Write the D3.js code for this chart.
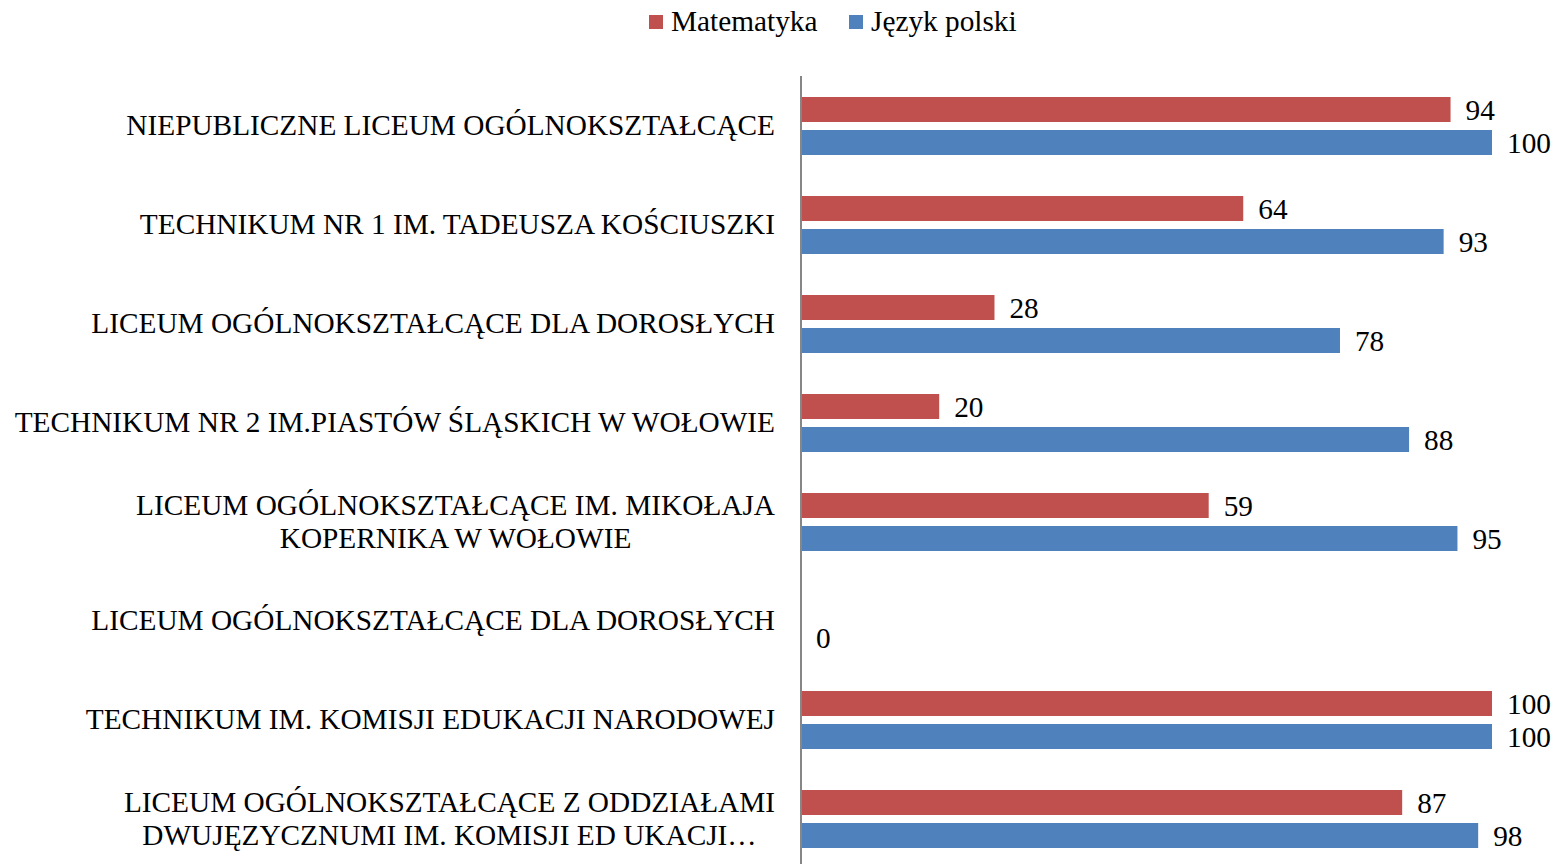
<!DOCTYPE html>
<html>
<head>
<meta charset="utf-8">
<script src="https://cdn.jsdelivr.net/npm/d3@7"></script>
<style>
  html, body { margin:0; padding:0; background:#fff; }
  svg { display:block; font-family:"Liberation Serif","Times New Roman",serif; }
</style>
</head>
<body>
<svg id="chart" width="1556" height="864"></svg>
<script>
const categories = [
  ["NIEPUBLICZNE LICEUM OGÓLNOKSZTAŁCĄCE"],
  ["TECHNIKUM NR 1 IM. TADEUSZA KOŚCIUSZKI"],
  ["LICEUM OGÓLNOKSZTAŁCĄCE DLA DOROSŁYCH"],
  ["TECHNIKUM NR 2 IM.PIASTÓW ŚLĄSKICH W WOŁOWIE"],
  ["LICEUM OGÓLNOKSZTAŁCĄCE IM. MIKOŁAJA", "KOPERNIKA W WOŁOWIE"],
  ["LICEUM OGÓLNOKSZTAŁCĄCE DLA DOROSŁYCH"],
  ["TECHNIKUM IM. KOMISJI EDUKACJI NARODOWEJ"],
  ["LICEUM OGÓLNOKSZTAŁCĄCE Z ODDZIAŁAMI", "DWUJĘZYCZNUMI IM. KOMISJI ED UKACJI…"]
];
const matematyka = [94, 64, 28, 20, 59, null, 100, 87];
const polski     = [100, 93, 78, 88, 95, 0, 100, 98];
const seriesNames = ["Matematyka", "Język polski"];
const seriesColors = ["#C0504D", "#4F81BD"];

const svg = d3.select("#chart");
const FS = 29.3;

const x = d3.scaleLinear().domain([0, 100]).range([801, 1492]);
const y0 = d3.scaleBand().domain(d3.range(categories.length)).range([76.5, 868.5]);
const y1 = d3.scaleBand().domain([0, 1]).range([20.5, 78.5]).paddingInner(8/33);

const rows = categories.map((c, i) => ({ i, lines: c, vals: [matematyka[i], polski[i]] }));

// bars
const rowG = svg.append("g").selectAll("g").data(rows).enter().append("g")
  .attr("transform", d => `translate(0,${y0(d.i)})`);

rowG.selectAll("rect").data(d => d.vals.map((v, s) => ({ v, s })).filter(e => e.v != null))
  .enter().append("rect")
  .attr("x", x(0)).attr("y", e => y1(e.s))
  .attr("width", e => x(e.v) - x(0)).attr("height", y1.bandwidth())
  .attr("fill", e => seriesColors[e.s]);

rowG.selectAll("text.val").data(d => d.vals.map((v, s) => ({ v, s })).filter(e => e.v != null))
  .enter().append("text").attr("class", "val")
  .attr("x", e => x(e.v) + 15).attr("y", e => y1(e.s) + y1.bandwidth()/2 + 10)
  .style("font-size", FS + "px").attr("fill", "#000")
  .text(e => e.v);

// axis line
svg.append("line").attr("x1", 801).attr("x2", 801).attr("y1", 76).attr("y2", 864)
  .attr("stroke", "#868686").attr("stroke-width", 2);

// category labels (multi-line lines centred on each other, block right-aligned)
rowG.each(function(d) {
  const g = d3.select(this);
  const t = g.append("text").style("font-size", FS + "px").attr("fill", "#000");
  const n = d.lines.length;
  d.lines.forEach((ln, k) => {
    t.append("tspan").attr("y", y0.bandwidth()/2 + 9 + (k - (n-1)/2) * 33).text(ln);
  });
  const spans = t.selectAll("tspan").nodes();
  const w = d3.max(spans, s => s.getComputedTextLength());
  const cx = 775 - w/2;
  t.selectAll("tspan").attr("x", cx).attr("text-anchor", "middle");
});

// legend
const legend = svg.append("g");
const lx = [649, 849];
seriesNames.forEach((name, s) => {
  legend.append("rect").attr("x", lx[s]).attr("y", 15).attr("width", 14).attr("height", 14)
    .attr("fill", seriesColors[s]);
  legend.append("text").attr("x", lx[s] + 22).attr("y", 31)
    .style("font-size", FS + "px").attr("fill", "#000").text(name);
});
</script>
</body>
</html>
